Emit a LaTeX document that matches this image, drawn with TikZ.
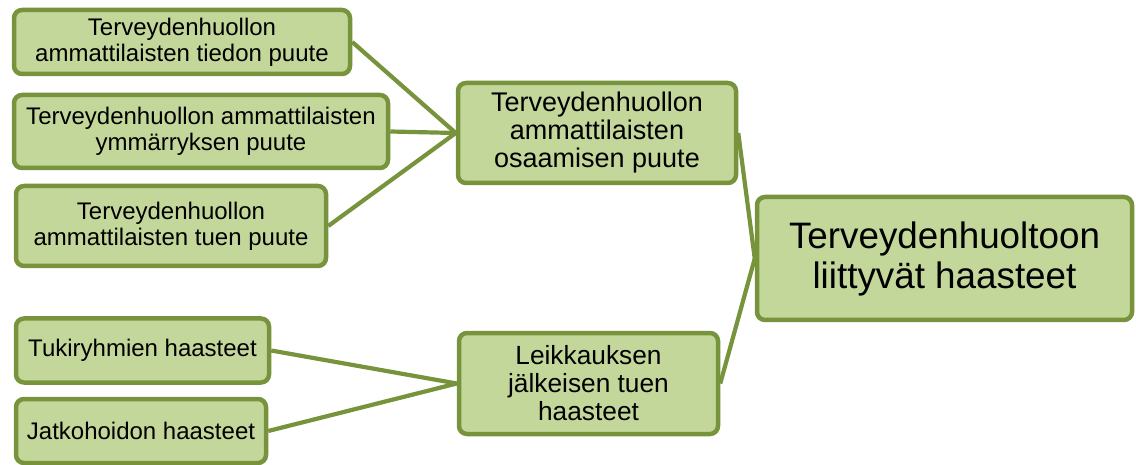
\documentclass[tikz,border=0pt]{standalone}
\usepackage{fontspec}
\setmainfont{Liberation Sans}
\definecolor{boxfill}{HTML}{C4D79B}
\definecolor{boxline}{HTML}{77933C}
\pgfdeclarelayer{bg}
\pgfsetlayers{bg,main}
\tikzset{
  gbox/.style={draw=boxline, fill=boxfill, line width=4.5pt, rounded corners=8pt,
    align=center, inner sep=2pt, anchor=center},
  small/.style={font=\fontsize{24}{26}\selectfont},
  midA/.style={font=\fontsize{27}{28}\selectfont},
  midB/.style={font=\fontsize{26.3}{28}\selectfont},
  big/.style={font=\fontsize{36.8}{40}\selectfont},
  conn/.style={draw=boxline, line width=4.2pt}
}
\begin{document}
\begin{tikzpicture}[x=1pt,y=-1pt]
\useasboundingbox (0,0) rectangle (1136,465);
\node[gbox,small,minimum width=336pt,minimum height=64pt] (a1) at (182,42) {Terveydenhuollon\\ammattilaisten tiedon puute};
\node[gbox,small,minimum width=374pt,minimum height=73pt] (a2) at (201,131.5) {Terveydenhuollon ammattilaisten\\ymmärryksen puute};
\node[gbox,small,minimum width=310pt,minimum height=80pt] (a3) at (171,226) {Terveydenhuollon\\ammattilaisten tuen puute};
\node[gbox,midA,minimum width=278pt,minimum height=100pt] (m1) at (597,133) {Terveydenhuollon\\ammattilaisten\\osaamisen puute};
\node[gbox,big,minimum width=375pt,minimum height=123pt] (r) at (944.5,258.5) {Terveydenhuoltoon\\liittyvät haasteet};
\node[gbox,small,minimum width=253pt,minimum height=64pt] (b1) at (142.5,350.5) {Tukiryhmien haasteet};
\node[gbox,small,minimum width=250pt,minimum height=64pt] (b2) at (141,431) {Jatkohoidon haasteet};
\node[gbox,midB,minimum width=259pt,minimum height=101pt] (m2) at (588.5,383.5) {Leikkauksen\\jälkeisen tuen\\haasteet};
\begin{pgfonlayer}{bg}
\draw[conn] (a1.east) -- (m1.west);
\draw[conn] (a2.east) -- (m1.west);
\draw[conn] (a3.east) -- (m1.west);
\draw[conn] (b1.east) -- (m2.west);
\draw[conn] (b2.east) -- (m2.west);
\draw[conn] (m1.east) -- (r.west);
\draw[conn] (m2.east) -- (r.west);
\end{pgfonlayer}
\end{tikzpicture}
\end{document}
